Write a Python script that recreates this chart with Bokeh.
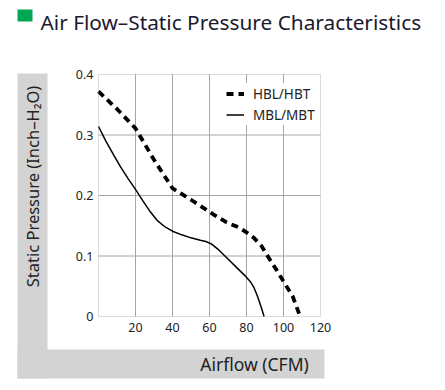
from bokeh.plotting import figure
from bokeh.models import BoxAnnotation, Label
from bokeh.core.properties import value
from bokeh.embed import file_html
from bokeh.resources import INLINE

# ---- data ----
hb_x = [0, 10, 20, 30, 40, 50, 55, 62, 69, 76, 80, 84, 88, 92, 96, 100, 105, 109]
hb_y = [0.372, 0.343, 0.311, 0.259, 0.212, 0.193, 0.183, 0.169, 0.156, 0.147, 0.139, 0.130, 0.117, 0.097, 0.078, 0.058, 0.033, 0.0]

mb_x = [0, 4, 8, 12, 16, 20, 24, 28, 32, 36, 40, 45, 50, 55, 58, 61, 65, 70, 75, 79, 82, 84, 86, 88, 89.5]
mb_y = [0.314, 0.290, 0.268, 0.247, 0.228, 0.210, 0.191, 0.173, 0.158, 0.148, 0.141, 0.135, 0.130, 0.126, 0.124, 0.120, 0.110, 0.095, 0.080, 0.068, 0.058, 0.048, 0.033, 0.015, 0.0]

x_ticks = [20, 40, 60, 80, 100, 120]
x_tick_labels = ["20", "40", "60", "80", "100", "120"]
y_ticks = [0, 0.1, 0.2, 0.3, 0.4]
y_tick_labels = ["0", "0.1", "0.2", "0.3", "0.4"]
x_max = 120
y_max = 0.4

title_text = "Air Flow\u2013Static Pressure Characteristics"
x_label = "Airflow (CFM)"
y_label = "Static Pressure (Inch\u2013H\u2082O)"
series_names = ["HBL/HBT", "MBL/MBT"]

# ---- layout (canvas pixels) ----
FONT = "Noto Sans"
W, H = 440, 385
FL, FT, FR, FB = 98, 74, 320, 316   # plotting area of the chart
ux = x_max / (FR - FL)
uy = y_max / (FB - FT)

p = figure(width=W, height=H, output_backend="svg", toolbar_location=None,
           x_range=(0 - FL * ux, x_max + (W - FR) * ux),
           y_range=(0 - (H - FB) * uy, y_max + FT * uy),
           x_axis_location=None, y_axis_location=None, min_border=0)
p.outline_line_color = None
p.grid.visible = False
p.background_fill_color = "white"
p.border_fill_color = "white"


def cbox(l, r, t, b, color, level="underlay"):
    return BoxAnnotation(left=l, right=r, top=t, bottom=b,
                         left_units="canvas", right_units="canvas",
                         top_units="canvas", bottom_units="canvas",
                         fill_color=color, fill_alpha=1, line_color=None, level=level)


GRAY = "#d3d3d3"
p.add_layout(cbox(17, 47, 73, 378, GRAY))
p.add_layout(cbox(17, 324, 349, 378, GRAY))
p.add_layout(cbox(17, 32, 9, 21, "#00a651", level="annotation"))

p.add_layout(Label(x=40, y=21, x_units="canvas", y_units="canvas", text=title_text,
                   text_font=FONT, text_font_size="20.8px", text_color="#1a1a2e",
                   text_baseline="alphabetic", text_align="left"))
p.add_layout(Label(x=254, y=363, x_units="canvas", y_units="canvas", text=x_label,
                   text_font=FONT, text_font_size="17.5px", text_color="#222222",
                   text_baseline="middle", text_align="center"))
p.add_layout(Label(x=32, y=186, x_units="canvas", y_units="canvas", text=y_label,
                   text_font=FONT, text_font_size="16.5px", text_color="#222222",
                   text_baseline="middle", text_align="center", angle=1.5707963))

# grid
gx = [t for t in x_ticks if 0 < t < x_max]
gy = [t for t in y_ticks if 0 < t < y_max]
GRID = "#a6a6a6"
p.segment(x0=gx, y0=[0] * len(gx), x1=gx, y1=[y_max] * len(gx), line_color=GRID, line_width=1)
p.segment(x0=[0] * len(gy), y0=gy, x1=[x_max] * len(gy), y1=gy, line_color=GRID, line_width=1)

# tick labels
p.text(x=x_ticks, y=[0] * len(x_ticks), text=x_tick_labels, y_offset=11,
       text_font=value(FONT), text_font_size="12.5px", text_color="#222222",
       text_align="center", text_baseline="middle")
p.text(x=[0] * len(y_ticks), y=y_ticks, text=y_tick_labels, x_offset=-5,
       text_font=value(FONT), text_font_size="12.5px", text_color="#222222",
       text_align="right", text_baseline="middle")

# series
p.line(hb_x, hb_y, line_color="black", line_width=3.8, line_dash="7 5",
       legend_label=series_names[0])
p.line(mb_x, mb_y, line_color="black", line_width=1.5, legend_label=series_names[1])

lg = p.legend[0]
lg.location = (226, H - 125)
lg.margin = 0
lg.padding = 10
lg.border_line_color = None
lg.background_fill_color = "white"
lg.background_fill_alpha = 1
lg.label_text_font = FONT
lg.label_text_font_size = "13.5px"
lg.label_text_color = "#222222"
lg.glyph_width = 18
lg.glyph_height = 21
lg.label_height = 21
lg.label_standoff = 9
lg.spacing = 0

# chart frame on top
p.add_layout(BoxAnnotation(left=0, right=x_max, bottom=0, top=y_max,
                           fill_color=None, line_color="#8c8c8c", line_width=1, level="annotation"))

open("out.html", "w").write(file_html(p, INLINE))
